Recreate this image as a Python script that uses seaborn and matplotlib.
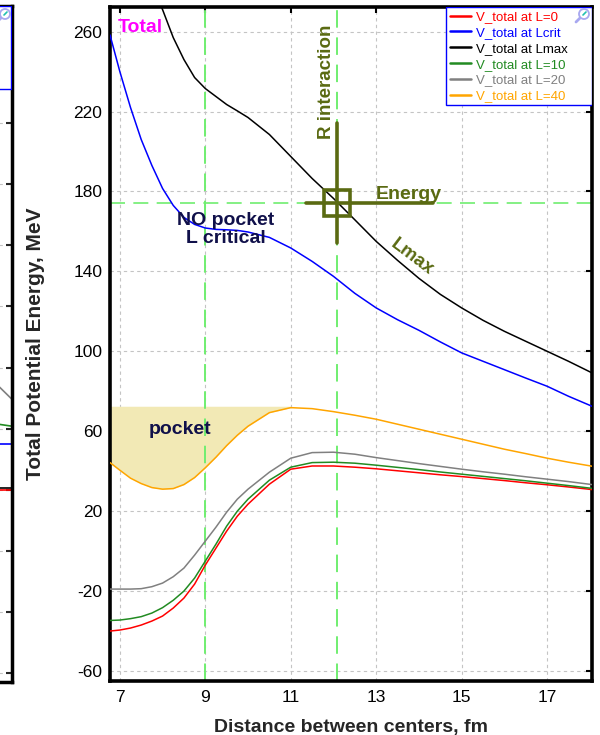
import matplotlib
matplotlib.use("Agg")
import matplotlib.pyplot as plt
from matplotlib.lines import Line2D
from matplotlib.patches import Rectangle, Ellipse
import numpy as np
import pandas as pd
import seaborn as sns

# ---- data -------------------------------------------------------------
distance = [6.77, 7.0, 7.25, 7.5, 7.75, 8.0, 8.25, 8.5, 8.75, 9.0, 9.25, 9.5,
            9.75, 10.0, 10.5, 11.0, 11.5, 12.0, 12.5, 13.0, 13.5, 14.0, 14.5,
            15.0, 15.5, 16.0, 16.5, 17.0, 17.5, 18.05]

v_l0 = [-40, -39.5, -38.5, -37, -35, -32.5, -28.5, -23.5, -16.5, -7, 1.5, 10,
        17.5, 23.5, 33.5, 41, 42.6, 42.6, 42, 41.2, 40.2, 39.2, 38.2, 37.3,
        36.3, 35.3, 34.2, 33.2, 32.1, 30.8]
v_lcrit = [258.3, 240, 222, 206, 193, 181.5, 173, 167, 163.5, 161.7, 161,
           160.8, 160.5, 159.7, 157, 151.7, 145, 137.5, 129, 121.7, 115.8,
           110.5, 104.7, 99.2, 95, 90.8, 86.6, 82.5, 77.5, 72.5]
v_lmax = [345, 328, 311, 296, 283, 271, 257, 246, 237, 231.5, 227.5, 223.5,
          220.3, 217, 208.5, 197.5, 186.5, 176.5, 165.8, 155, 145.5, 136.5,
          128.5, 121.7, 115.5, 110, 105, 100, 95, 89.2]
v_l10 = [-34.7, -34.5, -33.8, -32.8, -31, -28.3, -24.6, -20, -13.5, -5, 3.5,
         12.5, 20, 26, 35.5, 42, 44.3, 44.5, 44, 43, 41.9, 40.8, 39.6, 38.5,
         37.4, 36.3, 35.2, 34, 32.8, 31.4]
v_l20 = [-19, -19, -19, -18.8, -17.8, -16, -12.8, -8.5, -2, 5, 12, 19.5, 26,
         31, 39.5, 46.5, 49.3, 49.5, 48.5, 46.8, 45.3, 43.8, 42.4, 41, 39.7,
         38.5, 37.2, 36, 34.8, 33.3]
v_l40 = [44.3, 40.5, 36.5, 33.8, 31.8, 31.0, 31.3, 33.3, 36.8, 41.7, 47, 52.8,
         58, 62.5, 69.3, 71.8, 71.3, 69.8, 68, 66, 63.5, 61, 58.5, 56, 53.5,
         51, 48.8, 46.5, 44.5, 42.5]

series_names = ["V_total at L=0", "V_total at Lcrit", "V_total at Lmax",
                "V_total at L=10", "V_total at L=20", "V_total at L=40"]
series_colors = ["#ff0000", "#0000ff", "#000000", "#228b22", "#808080", "#ffa500"]
series_values = [v_l0, v_lcrit, v_lmax, v_l10, v_l20, v_l40]

pocket_top = 72.5          # flat top of the shaded pocket region
pocket_end = 11.0          # pocket shading stops at the L=40 barrier top
r_interaction = 12.08      # fm
energy = 174.3             # MeV
cross_v = [154.4, 214.4]   # vertical arm of the crosshair (MeV)
cross_h = [11.36, 14.33]   # horizontal arm of the crosshair (fm)

x_ticks = [7, 9, 11, 13, 15, 17]
y_ticks = [-60, -20, 20, 60, 100, 140, 180, 220, 260]

# neighbouring panel (only its right edge is in view)
side_x = [18.5, 19.2, 20.0]
side_values = [[-0.2, -0.2, -0.2], [14.9, 14.9, 14.9], [0.6, 0.6, 0.6],
               [21.4, 21.4, 20.8], [34.0, 33.6, 29.6]]
side_colors = ["#ff0000", "#0000ff", "#000000", "#228b22", "#808080"]
side_y_ticks = [-60, -40, -20, 0, 20, 40, 60, 80, 100, 120, 140]

# ---- style ------------------------------------------------------------
sns.set_style("white")
plt.rcParams["font.family"] = ["Liberation Sans", "DejaVu Sans"]
plt.rcParams["axes.unicode_minus"] = False

olive = "#5a6a12"
navy = "#10104a"
light_green = "#70ee70"
grid_gray = "#c4c4c4"

W, H = 600, 735
fig = plt.figure(figsize=(W / 100, H / 100), dpi=100)


def magnifier(cx, cy):
    """Small zoom-glass glyph in the corner of a legend box (pixel coords)."""
    fig.add_artist(Line2D([(cx - 3.5) / W, (cx - 8) / W],
                          [1 - (cy + 3.5) / H, 1 - (cy + 8) / H],
                          transform=fig.transFigure, color="#a8a8f0", lw=2.0,
                          zorder=10))
    fig.add_artist(Ellipse((cx / W, 1 - cy / H), 10 / W, 10 / H,
                           transform=fig.transFigure, facecolor="white",
                           edgecolor="#a8a8f0", lw=1.3, zorder=10))
    fig.add_artist(Line2D([(cx - 1) / W, (cx + 2) / W],
                          [1 - (cy + 1) / H, 1 - (cy - 2) / H],
                          transform=fig.transFigure, color="#20c0b0", lw=1.2,
                          zorder=11))


# ---- neighbouring panel at the left edge -------------------------------
axL = fig.add_axes([-0.5, 1 - 682 / H, 0.52, (682 - 6) / H])
for vals, col in zip(side_values, side_colors):
    sns.lineplot(x=side_x, y=vals, ax=axL, color=col, lw=1.2, legend=False)
axL.set_xlim(0, 20)
axL.set_ylim(-62.9, 158.3)
axL.set_yticks(side_y_ticks)
axL.set_xticks([])
axL.yaxis.tick_right()
axL.tick_params(axis="y", direction="in", length=4, width=1.5,
                labelright=False, right=True, left=False)
axL.grid(True, axis="y", color=grid_gray, linestyle=(0, (3, 3)), lw=0.8)
for sp in axL.spines.values():
    sp.set_linewidth(2.5)
    sp.set_color("black")
# its legend box, of which only the right edge shows
axL.add_patch(Rectangle((0.55, (682 - 89) / 676), 0.447, 1 - (682 - 89) / 676,
                        transform=axL.transAxes, facecolor="white",
                        edgecolor="#0000ff", lw=1.0, zorder=5))
magnifier(5, 14)

# ---- main panel --------------------------------------------------------
ax = fig.add_axes([110 / W, 1 - 681 / H, (592 - 110) / W, (681 - 7) / H])

df = pd.concat(
    [pd.DataFrame({"distance": distance, "energy": vals, "series": name})
     for name, vals in zip(series_names, series_values)],
    ignore_index=True)

# pocket shading under the flat top, above the L=40 curve
dist_arr = np.array(distance)
l40_arr = np.array(v_l40)
mask = dist_arr <= pocket_end
ax.fill_between(dist_arr[mask], l40_arr[mask], pocket_top,
                color="#f2e9b5", lw=0, zorder=1)

ax.grid(True, color=grid_gray, linestyle=(0, (3, 3)), lw=0.8, zorder=0)

# reference lines: contact distance, interaction radius, energy
for xv in (9.0, r_interaction):
    ax.axvline(xv, color=light_green, lw=1.4, ls=(0, (9, 5)), zorder=2)
ax.axhline(energy, color=light_green, lw=1.2, ls=(0, (9, 5)), zorder=2)

sns.lineplot(data=df, x="distance", y="energy", hue="series",
             hue_order=series_names,
             palette=dict(zip(series_names, series_colors)),
             ax=ax, lw=1.1, legend=False, zorder=3)

# crosshair at (R interaction, Energy)
ax.plot([r_interaction, r_interaction], cross_v, color=olive, lw=2.6, zorder=4)
ax.plot(cross_h, [energy, energy], color=olive, lw=2.6, zorder=4)
ax.plot([r_interaction], [energy], marker="s", ms=18.5, mfc="none",
        mec=olive, mew=2.6, zorder=4)

ax.set_xlim(6.77, 18.05)
ax.set_ylim(-65, 272.3)
ax.set_xticks(x_ticks)
ax.set_yticks(y_ticks)
ax.tick_params(direction="in", length=4, width=1.5, top=True, right=True,
               labelsize=12.5, colors="black")
ax.tick_params(axis="y", pad=5.5)
ax.tick_params(axis="x", pad=6.5)
for sp in ax.spines.values():
    sp.set_linewidth(2.6)
    sp.set_color("black")

ax.set_xlabel("Distance between centers, fm", fontsize=14, fontweight="bold")
ax.set_ylabel("Total Potential Energy, MeV", fontsize=15, fontweight="bold")
ax.xaxis.set_label_coords(0.5, -0.056)
ax.yaxis.set_label_coords(-0.135, 0.5)

# annotations
ax.text(6.95, 262.0, "Total", color="#ff00ff", fontsize=14, fontweight="bold",
        ha="left", va="center", zorder=5)
ax.text(11.83, 234.9, "R interaction", color=olive, fontsize=13.5,
        fontweight="bold", rotation=90, ha="center", va="center", zorder=5)
ax.text(13.77, 178.6, "Energy", color=olive, fontsize=14, fontweight="bold",
        ha="center", va="center", zorder=5)
ax.text(13.84, 146.9, "Lmax", color=olive, fontsize=13.5, fontweight="bold",
        rotation=-37, ha="center", va="center", rotation_mode="anchor", zorder=5)
ax.text(9.48, 161.0, "NO pocket\nL critical", color=navy, fontsize=14,
        fontweight="bold", ha="center", va="center", linespacing=1.12, zorder=5)
ax.text(8.41, 60.8, "pocket", color=navy, fontsize=14, fontweight="bold",
        ha="center", va="center", zorder=5)

# legend box with coloured labels
ax.add_patch(Rectangle(((446 - 110) / 482, (681 - 105) / 674),
                       (592 - 446) / 482, 98 / 674, transform=ax.transAxes,
                       facecolor="white", edgecolor="#0000ff", lw=1.0,
                       zorder=6))
handles = [Line2D([], [], color=c, lw=1.8) for c in series_colors]
leg = ax.legend(handles, series_names, loc="upper left",
                bbox_to_anchor=((446 - 110) / 482, 1.0), fontsize=9.5,
                frameon=False, borderaxespad=0.0, handlelength=1.6,
                handletextpad=0.35, labelspacing=0.27, borderpad=0.3)
for txt, col in zip(leg.get_texts(), series_colors):
    txt.set_color(col)
leg.set_zorder(7)
magnifier(584, 14)

fig.savefig("out.png", dpi=100)
